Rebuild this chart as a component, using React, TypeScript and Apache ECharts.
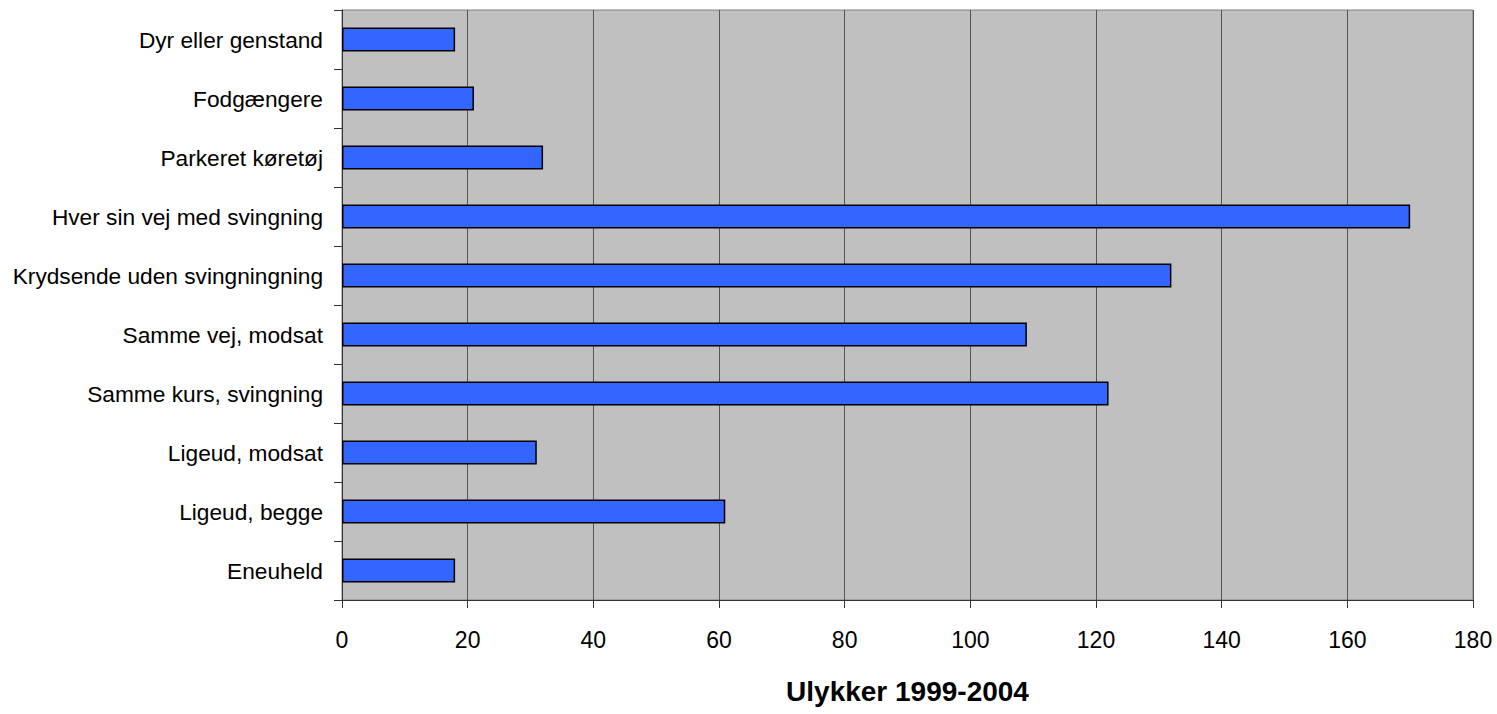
import React, { useEffect, useRef } from "react";
import * as echarts from "echarts";

const categories = [
  "Dyr eller genstand",
  "Fodgængere",
  "Parkeret køretøj",
  "Hver sin vej med svingning",
  "Krydsende uden svingningning",
  "Samme vej, modsat",
  "Samme kurs, svingning",
  "Ligeud, modsat",
  "Ligeud, begge",
  "Eneuheld",
];
const values = [18, 21, 32, 170, 132, 109, 122, 31, 61, 18];
const xAxisTitle = "Ulykker 1999-2004";

export default function App() {
  const ref = useRef<HTMLDivElement>(null);
  useEffect(() => {
    const chart = echarts.init(ref.current!, null, { renderer: "svg" });
    chart.setOption({
      animation: false,
      textStyle: { fontFamily: "'Liberation Sans', Arial, sans-serif" },
      grid: {
        left: 342,
        right: 24,
        top: 10,
        bottom: 114,
        containLabel: false,
        outerBoundsMode: "none",
        show: true,
        backgroundColor: "#C0C0C0",
        borderColor: "#808080",
        borderWidth: 1,
      },
      xAxis: {
        type: "value",
        min: 0,
        max: 180,
        interval: 20,
        name: xAxisTitle,
        nameLocation: "middle",
        nameGap: 77,
        nameTextStyle: { fontSize: 28, fontWeight: "bold", color: "#000" },
        axisLine: { show: true, lineStyle: { color: "#333", width: 1 } },
        axisTick: { show: true, length: 8, lineStyle: { color: "#333" } },
        axisLabel: { fontSize: 23, color: "#000", margin: 28 },
        splitLine: { show: true, lineStyle: { color: "#555", width: 1 } },
      },
      yAxis: {
        type: "category",
        data: categories,
        inverse: true,
        axisLine: { show: true, lineStyle: { color: "#333", width: 1 } },
        axisTick: { show: true, length: 8, alignWithLabel: false, lineStyle: { color: "#333" } },
        axisLabel: { fontSize: 22.7, color: "#000", margin: 19 },
        splitLine: { show: false },
      },
      series: [
        {
          type: "bar",
          data: values,
          barWidth: 24,
          itemStyle: { color: "#3366FF", borderColor: "#000", borderWidth: 1.5 },
        },
      ],
    });
    return () => chart.dispose();
  }, []);
  return (
    <div
      ref={ref}
      style={{ position: "fixed", left: 0, top: 0, width: 1497, height: 714, background: "#fff" }}
    />
  );
}
